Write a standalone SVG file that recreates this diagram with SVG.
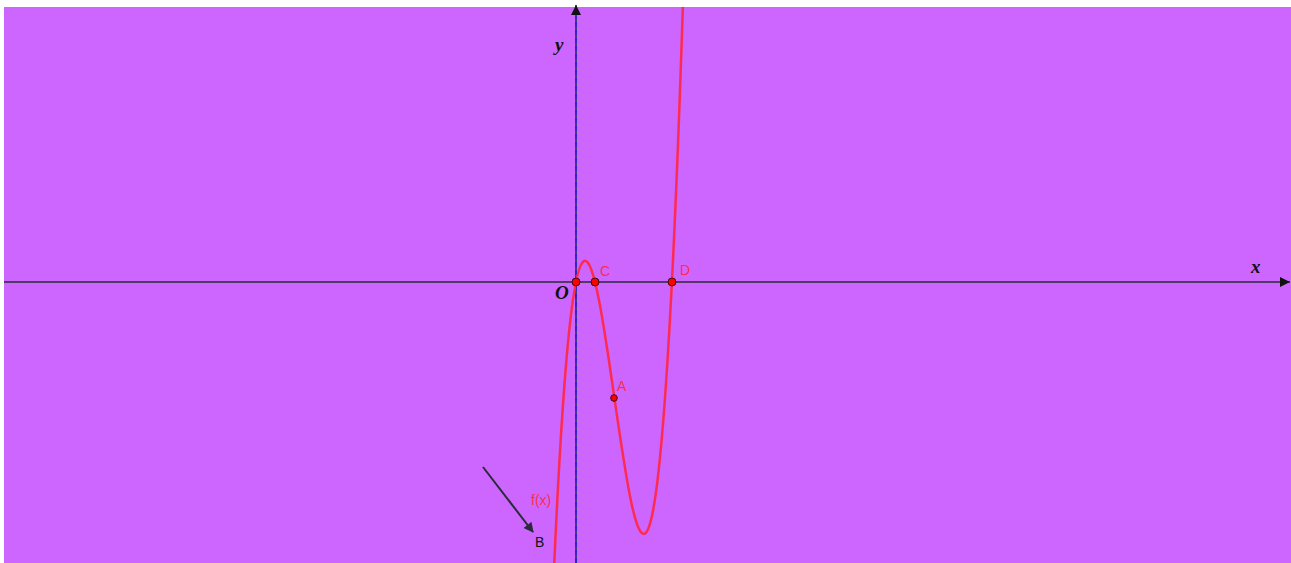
<svg xmlns="http://www.w3.org/2000/svg" width="1291" height="563" viewBox="0 0 1291 563">
<style>
.axis{stroke:#2a2a3a;stroke-width:1.5;fill:none}
.curve{stroke:#ff2b4f;stroke-width:2.5;fill:none}
.pt{fill:#ff0000;stroke:#3a1010;stroke-width:1}
.lbl{font-family:"Liberation Sans",Arial,sans-serif;font-size:14px;fill:#ff2b4f}
.ax{font-family:"Liberation Serif","Times New Roman",serif;font-style:italic;font-weight:bold;font-size:19px;fill:#111}
</style>
<defs>
<clipPath id="clip"><rect x="4" y="7" width="1287" height="556"/></clipPath>
<marker id="ah" viewBox="0 0 10 10" refX="10" refY="5" markerWidth="11" markerHeight="10" markerUnits="userSpaceOnUse" orient="auto"><path d="M0,0 L10,5 L0,10 Z" fill="#111"/></marker>
<marker id="ah2" viewBox="0 0 10 10" refX="9" refY="5" markerWidth="11" markerHeight="10" markerUnits="userSpaceOnUse" orient="auto"><path d="M0,0 L10,5 L0,10 Z" fill="#2a2a3a"/></marker>
</defs>
<rect x="4" y="7" width="1287" height="556" fill="#cc66ff"/>
<g id="axes">
<line class="axis" x1="4" y1="282" x2="1290" y2="282" marker-end="url(#ah)"/>
<line class="axis" x1="576" y1="563" x2="576" y2="5" marker-end="url(#ah)"/>
<line x1="576" y1="563" x2="576" y2="16" stroke="#2020e0" stroke-width="1.5" stroke-dasharray="5,3"/>
<text class="ax" x="555" y="51">y</text>
<text class="ax" x="1251" y="273">x</text>
<text class="ax" x="555" y="299">O</text>
</g>
<g id="curve" clip-path="url(#clip)">
<path class="curve" d="M554 569.38 C597.33 -405.96 640.67 1371.75 684 -29.43"/>
</g>
<g id="connectors">
<line x1="483" y1="467" x2="533" y2="532" stroke="#2a2a3a" stroke-width="2" marker-end="url(#ah2)"/>
</g>
<g id="pointO"><circle class="pt" cx="576" cy="282" r="4"/></g>
<g id="pointC"><circle class="pt" cx="595" cy="282" r="4"/><text class="lbl" x="600" y="276">C</text></g>
<g id="pointD"><circle class="pt" cx="672" cy="282" r="4"/><text class="lbl" x="680" y="275">D</text></g>
<g id="pointA"><circle class="pt" cx="614" cy="398" r="3.3"/><text class="lbl" x="617" y="391">A</text></g>
<g id="labelF"><text class="lbl" x="531" y="505">f(x)</text></g>
<g id="labelB"><text x="535" y="547" font-family="Liberation Sans,Arial,sans-serif" font-size="14" fill="#111">B</text></g>
</svg>
